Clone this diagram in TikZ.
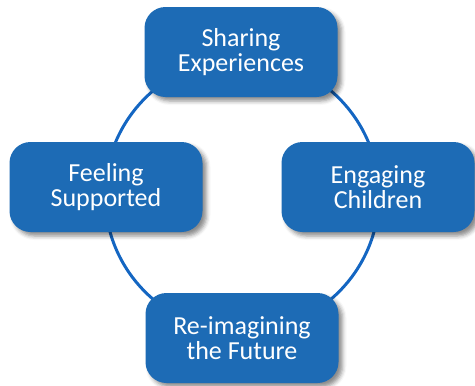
\documentclass[tikz,border=0pt]{standalone}
\usepackage{fontspec}
\setmainfont{Carlito}
\usetikzlibrary{shadows.blur}

\definecolor{stageblue}{HTML}{1D6BB5}
\definecolor{ringblue}{HTML}{1466C2}

\tikzset{
  stage/.style={rectangle, rounded corners=21pt, fill=stageblue,
    minimum width=193pt, minimum height=90pt, text=white, align=center,
    font=\fontsize{26}{25}\selectfont,
    blur shadow={shadow xshift=4pt, shadow yshift=-4pt,
      shadow blur radius=4pt, shadow opacity=45}},
  ring/.style={draw=ringblue, line width=3pt}
}

\begin{document}
\begin{tikzpicture}[x=1pt,y=-1pt]
  \useasboundingbox (0,0) rectangle (475,386);

  % the cycle
  \draw[ring] (242,195) circle (137pt);

  \node[stage] (share) at (241,52) {Sharing\\Experiences};
  \node[stage] (engage) at (378,187) {Engaging\\Children};
  \node[stage] (future) at (242,338) {Re-imagining\\the Future};
  \node[stage] (support) at (106,187) {Feeling\\Supported};

\end{tikzpicture}
\end{document}
